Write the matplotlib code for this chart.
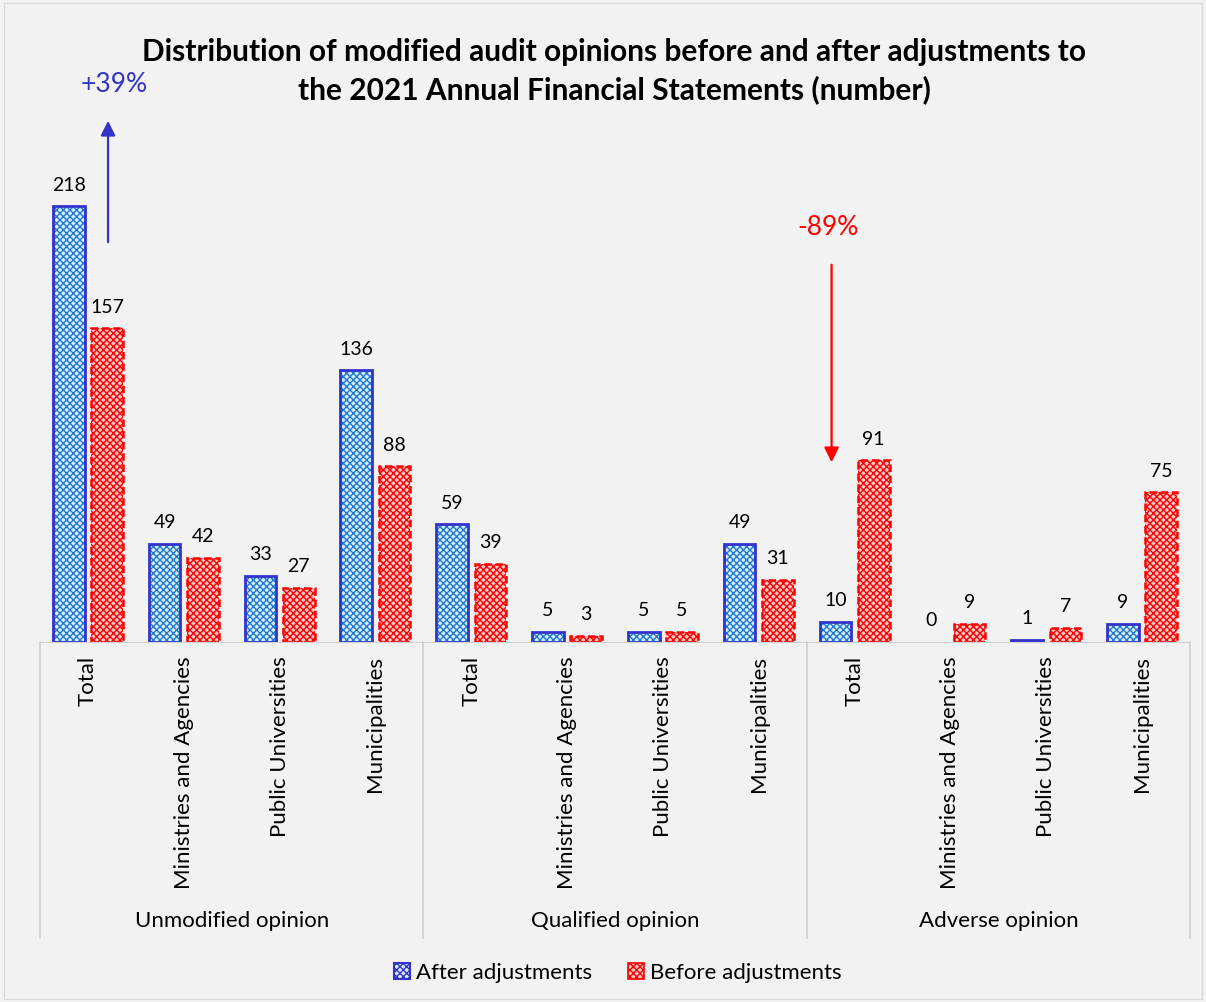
import matplotlib
matplotlib.use("Agg")
import matplotlib.pyplot as plt
from matplotlib.patches import Patch, Rectangle
import numpy as np

plt.rcParams['font.family'] = ['Lato', 'DejaVu Sans']

# ==== data ====
groups = ["Unmodified opinion", "Qualified opinion", "Adverse opinion"]
subcats = ["Total", "Ministries and Agencies", "Public Universities", "Municipalities"]
after_adj = [218, 49, 33, 136, 59, 5, 5, 49, 10, 0, 1, 9]
before_adj = [157, 42, 27, 88, 39, 3, 5, 31, 91, 9, 7, 75]

blue_edge = "#3333cc"
blue_hatch = "#1a7ad4"
red_col = "#ff0000"
bg = "#f2f2f2"

W, H = 1206, 1002
fig = plt.figure(figsize=(W / 100, H / 100), dpi=100, facecolor=bg)
# axes in pixel layout: left 40, right 1190, baseline 642, 2 px per unit
ax = fig.add_axes([40 / W, 1 - 642 / H, 1150 / W, 500 / H])
ax.set_facecolor(bg)
ax.set_xlim(0, 12)
ax.set_ylim(0, 250)

x = np.arange(12) + 0.5
bw = 0.33
off = 0.2

# hatched fill, then outline on top (no outline for empty bars)
lw_after = [2 if v > 0 else 0 for v in after_adj]
lw_before = [1.8 if v > 0 else 0 for v in before_adj]
ax.bar(x - off, after_adj, bw, facecolor="#dbeaf7", edgecolor=blue_hatch, hatch="xxxxx", lw=0)
ax.bar(x - off, after_adj, bw, fill=False, edgecolor=blue_edge, lw=lw_after)
ax.bar(x + off, before_adj, bw, facecolor="#ffc8c8", edgecolor=red_col, hatch="xxxxx", lw=0)
ax.bar(x + off, before_adj, bw, fill=False, edgecolor=red_col, lw=lw_before, linestyle=(0, (3, 1.5)))

for xi, v in zip(x - off, after_adj):
    ax.annotate(str(v), (xi, v), xytext=(0, 9), textcoords="offset points",
                ha="center", va="bottom", fontsize=14)
for xi, v in zip(x + off, before_adj):
    ax.annotate(str(v), (xi, v), xytext=(0, 9), textcoords="offset points",
                ha="center", va="bottom", fontsize=14)

# axes styling
for s in ["top", "right", "left"]:
    ax.spines[s].set_visible(False)
ax.spines["bottom"].set_color("#d0d0d0")
ax.set_yticks([])
ax.set_xticks(x)
ax.set_xticklabels(subcats * 3, rotation=90, fontsize=16, va="top", ha="center")
ax.tick_params(axis="x", length=0, pad=10)

# group separators and labels
tr = ax.get_xaxis_transform()
for gx in [0, 4, 8, 12]:
    ax.plot([gx, gx], [0, -0.592], transform=tr, color="#d0d0d0", lw=1.2, clip_on=False)
for i, g in enumerate(groups):
    ax.text(i * 4 + 2, -0.558, g, transform=tr, ha="center", va="center", fontsize=16)

# arrows
ax.annotate("", xy=(0.71, 262), xytext=(0.71, 198.5), annotation_clip=False,
            arrowprops=dict(arrowstyle="-|>", color=blue_edge, lw=1.6, mutation_scale=22))
ax.text(0.77, 279, "+39%", color=blue_edge, fontsize=19, ha="center", va="center", clip_on=False)
ax.annotate("", xy=(8.26, 88.5), xytext=(8.26, 190), annotation_clip=False,
            arrowprops=dict(arrowstyle="-|>", color=red_col, lw=1.6, mutation_scale=22))
ax.text(8.22, 207.5, "-89%", color=red_col, fontsize=19, ha="center", va="center")

fig.text(614 / W, 1 - 71 / H,
         "Distribution of modified audit opinions before and after adjustments to\n"
         "the 2021 Annual Financial Statements (number)",
         ha="center", va="center", fontsize=21.5, fontweight="bold", linespacing=1.38)

handles = [Patch(facecolor="#dbeaf7", edgecolor=blue_edge, hatch="xxxxx", lw=1.5),
           Patch(facecolor="#ffc8c8", edgecolor=red_col, hatch="xxxxx", lw=1.2)]
fig.legend(handles, ["After adjustments", "Before adjustments"], loc="center",
           bbox_to_anchor=(618 / W, 1 - 973 / H), ncol=2, frameon=False, fontsize=16,
           handlelength=0.7, handleheight=0.7, handletextpad=0.3, columnspacing=1.6)

fig.patches.append(Rectangle((0.003, 0.003), 0.994, 0.994, transform=fig.transFigure,
                             fill=False, edgecolor="#d9d9d9", lw=1))

fig.savefig("out.png", dpi=100, facecolor=bg)
